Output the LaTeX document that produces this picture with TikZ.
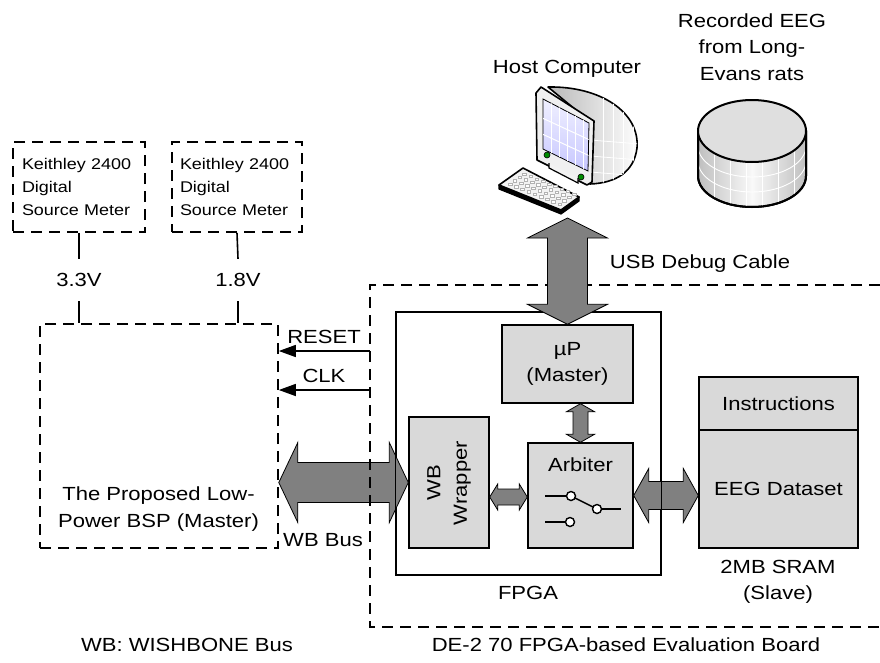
\documentclass[tikz,border=0pt]{standalone}
\usepackage{fontspec}
\setmainfont{Liberation Sans}[FakeStretch=1.16]
\usetikzlibrary{arrows.meta,calc}

\definecolor{blockgray}{HTML}{D9D9D9}
\definecolor{busgray}{HTML}{808080}

\tikzset{
  txt/.style={font=\fontsize{19}{26.5}\selectfont, align=center, inner sep=0pt},
  dashline/.style={line width=1.6pt, dash pattern=on 11pt off 7pt},
  meterbox/.style={dashline, draw, minimum height=90pt, inner ysep=0pt,
    align=left, font=\fontsize{15.5}{23}\selectfont},
  block/.style={draw, line width=1.4pt, fill=blockgray, inner sep=0pt, txt},
  bus/.style={draw=black, line width=0.8pt, fill=busgray, line join=miter},
  wire/.style={line width=1.6pt},
  sig/.style={line width=1.4pt, -{Triangle[length=17pt,width=12pt]}},
}

% horizontal fat double arrow: left point, right point, shaft half, head half, head length
\newcommand\hbus[5]{%
  \path[bus] let \p1=#1, \p2=#2 in
    (\x1,\y1) -- (\x1+#5pt,\y1+#4pt) -- (\x1+#5pt,\y1+#3pt) -- (\x2-#5pt,\y1+#3pt)
    -- (\x2-#5pt,\y1+#4pt) -- (\x2,\y1) -- (\x2-#5pt,\y1-#4pt) -- (\x2-#5pt,\y1-#3pt)
    -- (\x1+#5pt,\y1-#3pt) -- (\x1+#5pt,\y1-#4pt) -- cycle;}
% vertical fat double arrow: top point, bottom point, shaft half, head half, head length
\newcommand\vbus[5]{%
  \path[bus] let \p1=#1, \p2=#2 in
    (\x1,\y1) -- (\x1+#4pt,\y1-#5pt) -- (\x1+#3pt,\y1-#5pt) -- (\x1+#3pt,\y2+#5pt)
    -- (\x1+#4pt,\y2+#5pt) -- (\x1,\y2) -- (\x1-#4pt,\y2+#5pt) -- (\x1-#3pt,\y2+#5pt)
    -- (\x1-#3pt,\y1-#5pt) -- (\x1-#4pt,\y1-#5pt) -- cycle;}

\begin{document}
\begin{tikzpicture}[x=1pt,y=-1pt]
\useasboundingbox (0,0) rectangle (880,662);

% ---------------- source meters and supplies ----------------
\node[meterbox, text width=114pt, inner xsep=9pt] (k1) at (79,187)
  {Keithley 2400\\Digital\\Source Meter};
\node[meterbox, text width=114pt, inner xsep=8pt] (k2) at (237,187)
  {Keithley 2400\\Digital\\Source Meter};

\node[draw, dashline, minimum width=238pt, minimum height=224pt, inner sep=0pt]
  (bsp) at (159,436) {};
\node[txt] (bsptext) at (158.5,509) {The Proposed Low-\\Power BSP (Master)};

\node[txt, minimum height=42pt] (v33) at (79,280) {3.3V};
\node[txt, minimum height=42pt] (v18) at (238,280) {1.8V};
\draw[wire] (k1.south) -- (v33.north);
\draw[wire] (v33.south) -- (v33.south |- bsp.north);
\draw[wire] (k2.south) -- (v18.north);
\draw[wire] (v18.south) -- (v18.south |- bsp.north);

% ---------------- host computer ----------------
\node[txt] (hosttext) at (567,69) {Host Computer};
% cabinet
\path[left color=gray!55, right color=white, draw=black, line width=1.6pt, line join=round]
  (548,87) .. controls (600,86) and (640,112) .. (637,148)
  .. controls (634,172) and (616,183) .. (590,184) -- (593,124) -- cycle;
\begin{scope}
  \clip (548,87) .. controls (600,86) and (640,112) .. (637,148)
    .. controls (634,172) and (616,183) .. (590,184) -- (593,124) -- cycle;
  \foreach \xx in {603,613,623,633} \draw[white, line width=0.8pt] (\xx,80) -- (\xx,190);
  \foreach \yy in {140,156,172} \draw[white, line width=0.8pt] (590,\yy) -- (640,\yy+4);
\end{scope}
% front bezel
\draw[fill=gray!12, line width=1.6pt, line join=round]
  (536,93) -- (541,87) -- (594,121) -- (592,182) -- (587,185) -- (537,160) -- cycle;
% screen
\draw[line width=0.8pt, top color=blue!6, bottom color=blue!22]
  (543,99) -- (589,123) -- (588,171) -- (543,149) -- cycle;
\begin{scope}
  \clip (543,99) -- (589,123) -- (588,171) -- (543,149) -- cycle;
  \foreach \xx in {551,559,567,575,583} \draw[white, line width=1pt] (\xx,90) -- (\xx,180);
  \foreach \yy in {117,133} \draw[white, line width=1pt] (540,\yy) -- (592,\yy+24);
\end{scope}
% stand
\draw[line width=1.2pt, fill=gray!10] (549,163) -- (549,168) -- (578,183) -- (578,178);
% power buttons
\draw[fill=green!55!black, line width=0.6pt] (547,155) circle (3pt);
\draw[fill=green!55!black, line width=0.6pt] (581,177) circle (3pt);
% keyboard
\draw[fill=black, line width=1.2pt, line join=round]
  (499,185) -- (499,189) -- (561,214) -- (579,201) -- (579,197) -- (561,210) -- cycle;
\draw[fill=gray!10, line width=1.6pt, line join=round]
  (499,185) -- (523,168) -- (579,197) -- (561,210) -- cycle;
\foreach \i in {1,...,9} \foreach \j in {1,...,4}
  \fill[white, draw=gray!60, line width=0.3pt]
    ({499+6.2*\i+4.8*\j-1.8},{185+2.5*\i-3.4*\j-1.2}) rectangle ++(3.6,2.4);
\coordinate (pc) at (567.5,218);

% ---------------- recorded EEG storage ----------------
\node[txt] (rectext) at (752,47) {Recorded EEG\\from Long-\\Evans rats};
\path[left color=gray!50, right color=gray!50, middle color=gray!5, draw=black, line width=2pt]
  (698,131) -- (698,176) arc[start angle=180, end angle=0, x radius=54, y radius=31]
  -- (806,131) -- cycle;
\begin{scope}
  \clip (698,131) -- (698,176) arc[start angle=180, end angle=0, x radius=54, y radius=31]
    -- (806,131) -- cycle;
  \foreach \xx in {714,730,746,762,778,794} \draw[white, line width=0.9pt] (\xx,120) -- (\xx,215);
  \foreach \dd in {146,161} \draw[white, line width=0.9pt]
    (698,\dd) arc[start angle=180, end angle=0, x radius=54, y radius=31];
\end{scope}
\draw[line width=2pt] (698,131) -- (698,176) arc[start angle=180, end angle=0, x radius=54, y radius=31]
  -- (806,131);
\draw[line width=2pt, fill=gray!25] (752,131) ellipse [x radius=54, y radius=31];

% ---------------- evaluation board ----------------
\coordinate (btl) at (370,285);
\coordinate (btr) at (880,285);
\coordinate (bbl) at (370,627);
\coordinate (bbr) at (880,627);

\node[draw, line width=1.4pt, minimum width=265pt, minimum height=263pt, inner sep=0pt]
  (fpga) at (528.5,443.5) {};
\node[txt] (fpgatext) at (528,593) {FPGA};

\node[block, minimum width=131pt, minimum height=78pt] (up) at (567.5,364) {µP\\(Master)};
\node[block, minimum width=80pt, minimum height=131pt] (wrap) at (449,482.5) {};
\node[txt, rotate=90] (wraptext) at (449,483) {WB\\Wrapper};
\node[block, minimum width=105pt, minimum height=105pt] (arb) at (580.5,495.5) {};
\node[txt] (arbtext) at (580.5,465) {Arbiter};

% switch symbol inside the arbiter
\coordinate (s1) at (571,496);
\coordinate (s2) at (597,509);
\coordinate (s3) at (570,522);
\draw[line width=1.4pt] (545,496) -- ($(s1)+(-4.5,0)$);
\draw[line width=1.4pt] ($(s1)!4.5pt!(s2)$) -- ($(s2)!4.5pt!(s1)$);
\draw[line width=1.4pt] ($(s2)+(4.5,0)$) -- (621,509);
\draw[line width=1.4pt] (545,522) -- ($(s3)+(-4.5,0)$);
\foreach \s in {s1,s2,s3} \draw[line width=1.4pt, fill=white] (\s) circle (4.5pt);

\node[block, minimum width=159pt, minimum height=53pt] (instr) at (778.5,403.5) {Instructions};
\node[block, minimum width=159pt, minimum height=118pt] (data) at (778.5,489) {EEG Dataset};
\node[txt] (sramtext) at (778,582) {2MB SRAM\\(Slave)};

% buses that sit under the board outline
\hbus{(bsp.east |- wrap.west)}{(wrap.west)}{20}{40}{19}
\coordinate (wa) at ($(wrap.east)+(0,14.5)$);
\hbus{(wa)}{(wa -| arb.west)}{8}{13}{8}
\hbus{(arb.east)}{(arb.east -| data.west)}{14}{27}{15}
\vbus{(up.south -| arb.north)}{(arb.north)}{7.5}{14}{8}

% outlines drawn over the buses
\draw[dashline] (btr) -- (btl) -- (bbl) -- (bbr);
\draw[line width=1.4pt] (fpga.north west) rectangle (fpga.south east);

% USB cable over the board edge
\vbus{(pc)}{(up.north)}{20}{40}{20}
\node[txt] (usbtext) at (700,264) {USB Debug Cable};

% control signals
\coordinate (rst) at (370,351);
\coordinate (clk) at (370,390);
\draw[sig] (rst) -- (rst -| bsp.east);
\draw[sig] (clk) -- (clk -| bsp.east);
\node[txt] (rsttext) at (324,337) {RESET};
\node[txt] (clktext) at (324,376) {CLK};
\node[txt] (wbbus) at (323,540) {WB Bus};

% captions
\node[txt] (boardtext) at (626,645) {DE-2 70 FPGA-based Evaluation Board};
\node[txt] (wbnote) at (187,645) {WB: WISHBONE Bus};
\end{tikzpicture}
\end{document}
